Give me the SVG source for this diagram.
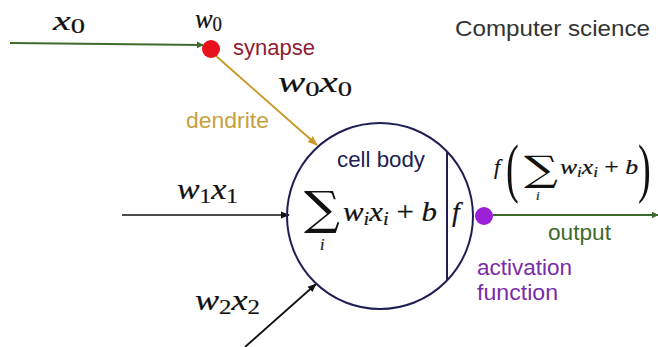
<svg xmlns="http://www.w3.org/2000/svg" width="658" height="347" viewBox="0 0 658 347">
<style>
.m{font-family:"Liberation Serif","DejaVu Serif",serif;font-style:italic;fill:#111;stroke:#111;stroke-width:0.2}
.n{font-family:"Liberation Serif","DejaVu Serif",serif;font-style:normal;fill:#111}
.s{font-family:"Liberation Sans",Arial,sans-serif}
.sig{font-family:"DejaVu Serif","Liberation Serif",serif;fill:#111}
</style>
<defs>
<marker id="ag" viewBox="0 0 10 10" refX="9" refY="5" markerWidth="7" markerHeight="7" orient="auto" markerUnits="userSpaceOnUse"><path d="M0,0 L10,5 L0,10 z" fill="#3d6b2c"/></marker>
<marker id="ak" viewBox="0 0 10 10" refX="9" refY="5" markerWidth="9" markerHeight="9" orient="auto" markerUnits="userSpaceOnUse"><path d="M0,1 L10,5 L0,9 z" fill="#111"/></marker>
<marker id="ay" viewBox="0 0 10 10" refX="9" refY="5" markerWidth="10" markerHeight="10" orient="auto" markerUnits="userSpaceOnUse"><path d="M0,1 L10,5 L0,9 z" fill="#c99a2a"/></marker>
</defs>
<rect width="658" height="347" fill="#fff"/>
<g id="connectors" fill="none">
<line x1="10" y1="43" x2="203" y2="45" stroke="#3d6b2c" stroke-width="2" marker-end="url(#ag)"/>
<line x1="216" y1="56" x2="317" y2="145" stroke="#c99a2a" stroke-width="2" marker-end="url(#ay)"/>
<line x1="122" y1="215" x2="289" y2="215" stroke="#111" stroke-width="1.6" marker-end="url(#ak)"/>
<line x1="245" y1="347" x2="316" y2="284" stroke="#111" stroke-width="1.8" marker-end="url(#ak)"/>
<line x1="493" y1="215" x2="658" y2="215" stroke="#3d6b2c" stroke-width="2" marker-end="url(#ag)"/>
</g>
<g id="synapse">
<circle cx="211" cy="49" r="9" fill="#e8101a"/>
<text x="233" y="55" class="s" font-size="22" fill="#8e2033" textLength="82" lengthAdjust="spacingAndGlyphs">synapse</text>
</g>
<g id="labels">
<text x="53" y="30" class="m" font-size="28" textLength="32" lengthAdjust="spacingAndGlyphs">x<tspan class="n" font-size="20" dy="3">0</tspan></text>
<text x="195" y="28" class="m" font-size="28" textLength="27" lengthAdjust="spacingAndGlyphs">w<tspan class="n" font-size="20" dy="3">0</tspan></text>
<text x="278" y="92" class="m" font-size="30" textLength="74" lengthAdjust="spacingAndGlyphs">w<tspan class="n" font-size="21" dy="4">0</tspan><tspan dy="-4">x</tspan><tspan class="n" font-size="21" dy="4">0</tspan></text>
<text x="186" y="128" class="s" font-size="22" fill="#c8a040" textLength="83" lengthAdjust="spacingAndGlyphs">dendrite</text>
<text x="455" y="36" class="s" font-size="22" fill="#333" textLength="195" lengthAdjust="spacingAndGlyphs">Computer science</text>
<text x="177" y="199" class="m" font-size="29" textLength="61" lengthAdjust="spacingAndGlyphs">w<tspan class="n" font-size="20" dy="4">1</tspan><tspan dy="-4">x</tspan><tspan class="n" font-size="20" dy="4">1</tspan></text>
<text x="195" y="310" class="m" font-size="29" textLength="65" lengthAdjust="spacingAndGlyphs">w<tspan class="n" font-size="20" dy="4">2</tspan><tspan dy="-4">x</tspan><tspan class="n" font-size="20" dy="4">2</tspan></text>
</g>
<g id="cell-body">
<circle cx="380" cy="216" r="93" fill="none" stroke="#1e1e55" stroke-width="2"/>
<line x1="447" y1="152" x2="447" y2="280" stroke="#1e1e55" stroke-width="2"/>
<text x="337" y="167" class="s" font-size="22" fill="#1e1e55" textLength="88" lengthAdjust="spacingAndGlyphs">cell body</text>
<text x="304" y="224" class="sig" font-size="46" textLength="36" lengthAdjust="spacingAndGlyphs">∑</text>
<text x="320" y="250" class="m" font-size="16">i</text>
<text x="343" y="221" class="m" font-size="27" textLength="94" lengthAdjust="spacingAndGlyphs">w<tspan font-size="18" dy="4">i</tspan><tspan dy="-4">x</tspan><tspan font-size="18" dy="4">i</tspan><tspan class="n" dy="-4"> + </tspan>b</text>
<text x="452" y="221" class="m" font-size="28">f</text>
</g>
<g id="activation">
<circle cx="484" cy="216" r="9" fill="#9a1fd6"/>
<text x="477" y="275" class="s" font-size="22" fill="#7a2ca8" textLength="95" lengthAdjust="spacingAndGlyphs">activation</text>
<text x="477" y="300" class="s" font-size="22" fill="#7a2ca8" textLength="81" lengthAdjust="spacingAndGlyphs">function</text>
</g>
<g id="output">
<text x="548" y="240" class="s" font-size="22" fill="#3d6b2c" textLength="63" lengthAdjust="spacingAndGlyphs">output</text>
<text x="494" y="174" class="m" font-size="22">f</text>
<text x="506" y="190" class="n" font-size="48" transform="translate(506 190) scale(0.8 1.35) translate(-506 -190)">(</text>
<text x="524" y="181" class="sig" font-size="35" textLength="34" lengthAdjust="spacingAndGlyphs">∑</text>
<text x="536" y="200" class="m" font-size="13">i</text>
<text x="560" y="174" class="m" font-size="21" textLength="78" lengthAdjust="spacingAndGlyphs">w<tspan font-size="14" dy="3">i</tspan><tspan dy="-3">x</tspan><tspan font-size="14" dy="3">i</tspan><tspan class="n" dy="-3"> + </tspan>b</text>
<text x="638" y="190" class="n" font-size="48" transform="translate(638 190) scale(0.8 1.35) translate(-638 -190)">)</text>
</g>
</svg>
